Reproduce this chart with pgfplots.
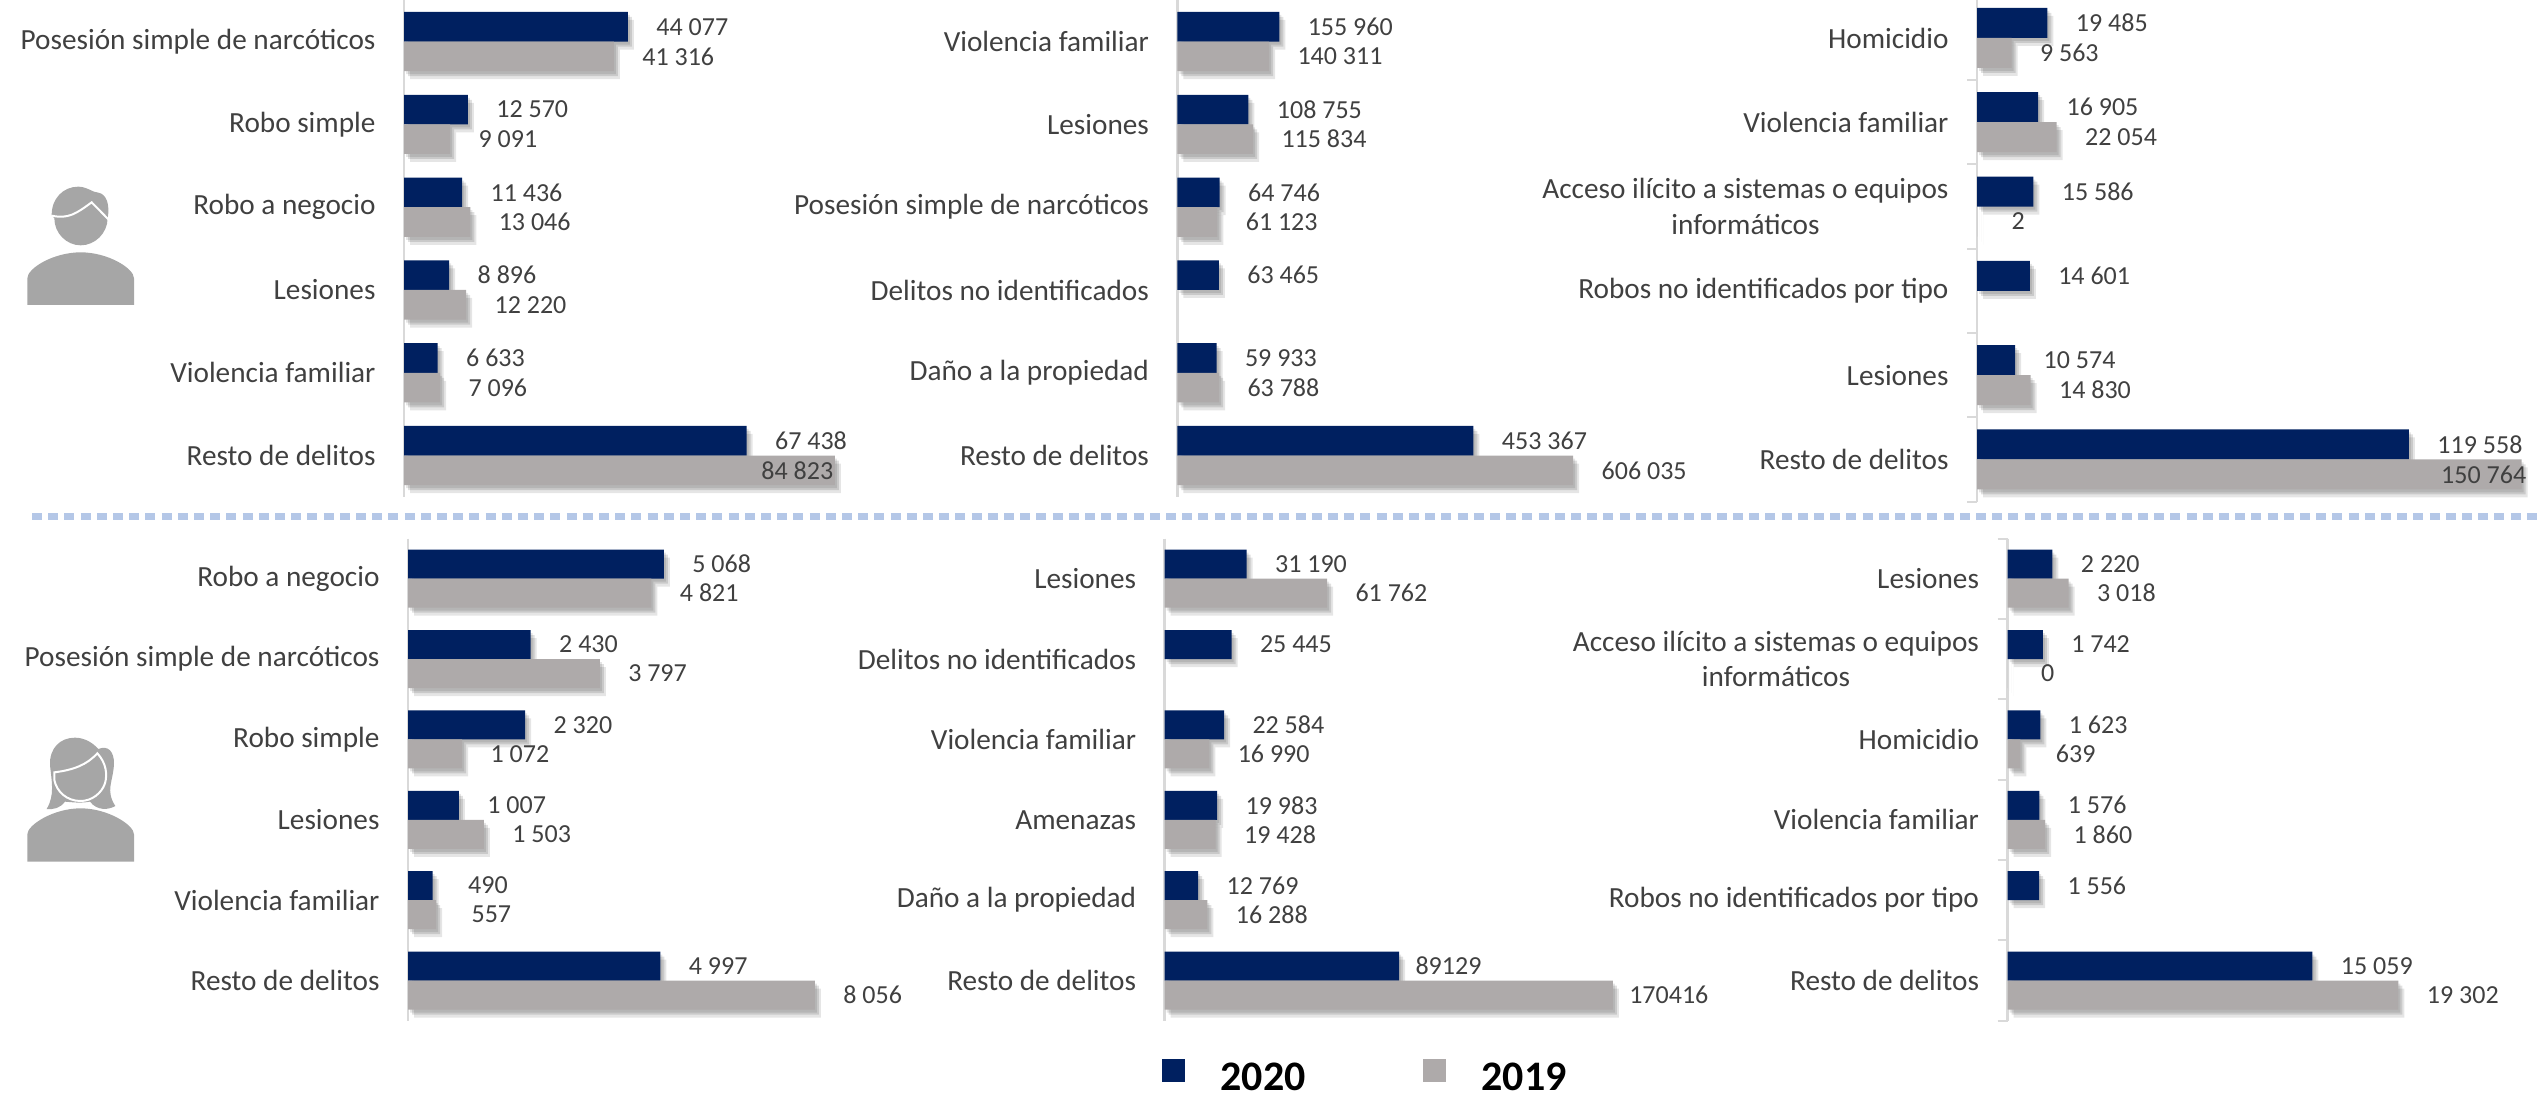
\documentclass[border=0pt]{standalone}
\usepackage{pgfplots}
\usepackage{pgfplotstable}
\usepackage{fontspec}
\pgfplotsset{compat=1.18}
\setmainfont{Carlito}
\definecolor{navy}{HTML}{002060}
\definecolor{grayb}{HTML}{AEAAAA}
\definecolor{txt}{HTML}{404040}
\definecolor{axl}{HTML}{D9D9D9}
\definecolor{icon}{HTML}{A6A6A6}
\definecolor{dots}{HTML}{B4C7E7}
\def\px{0.4pt}

\pgfplotstableread[col sep=comma]{
p,v,g,l
0,44077,28,44 077
1,12570,28,12 570
2,11436,28,11 436
3,8896,28,8 896
4,6633,28,6 633
5,67438,28,67 438
}\tAn
\pgfplotstableread[col sep=comma]{
p,v,g,l
0,41316,28,41 316
1,9091,28,9 091
2,13046,28,13 046
3,12220,28,12 220
4,7096,28,7 096
5,84823,-74,84 823
}\tAg
\pgfplotstableread[col sep=comma]{
p,v,g,l
0,155960,28,155 960
1,108755,28,108 755
2,64746,28,64 746
3,63465,28,63 465
4,59933,28,59 933
5,453367,28,453 367
}\tBn
\pgfplotstableread[col sep=comma]{
p,v,g,l
0,140311,28,140 311
1,115834,28,115 834
2,61123,28,61 123
4,63788,28,63 788
5,606035,28,606 035
}\tBg
\pgfplotstableread[col sep=comma]{
p,v,g,l
0,19485,28,19 485
1,16905,28,16 905
2,15586,28,15 586
3,14601,28,14 601
4,10574,28,10 574
5,119558,28,119 558
}\tCn
\pgfplotstableread[col sep=comma]{
p,v,g,l
0,9563,28,9 563
1,22054,28,22 054
2,2,34,2
4,14830,28,14 830
5,150764,-81,150 764
}\tCg
\pgfplotstableread[col sep=comma]{
p,v,g,l
0,5068,28,5 068
1,2430,28,2 430
2,2320,28,2 320
3,1007,28,1 007
4,490,35,490
5,4997,28,4 997
}\tDn
\pgfplotstableread[col sep=comma]{
p,v,g,l
0,4821,28,4 821
1,3797,28,3 797
2,1072,28,1 072
3,1503,28,1 503
4,557,35,557
5,8056,28,8 056
}\tDg
\pgfplotstableread[col sep=comma]{
p,v,g,l
0,31190,28,31 190
1,25445,28,25 445
2,22584,28,22 584
3,19983,28,19 983
4,12769,28,12 769
5,89129,16,89129
}\tEn
\pgfplotstableread[col sep=comma]{
p,v,g,l
0,61762,28,61 762
2,16990,28,16 990
3,19428,28,19 428
4,16288,28,16 288
5,170416,16,170416
}\tEg
\pgfplotstableread[col sep=comma]{
p,v,g,l
0,2220,28,2 220
1,1742,28,1 742
2,1623,28,1 623
3,1576,28,1 576
4,1556,28,1 556
5,15059,28,15 059
}\tFn
\pgfplotstableread[col sep=comma]{
p,v,g,l
0,3018,28,3 018
1,0,33,0
2,639,35,639
3,1860,28,1 860
5,19302,28,19 302
}\tFg

\pgfplotsset{
  panel/.style={
    anchor=north west, scale only axis, clip=false,
    axis x line=none, axis y line=left, axis line style={-, draw=axl, line width=2.4*\px},
    y dir=reverse, ymin=-0.5, ymax=5.5, ytick={0,...,5},
    major tick length=0pt, xbar, enlargelimits=false,
    point meta=explicit symbolic,
    yticklabel style={font=\fontsize{11.7}{14.2}\selectfont, text=txt, align=center, inner sep=0pt, xshift=-28*\px},
    nodes near coords, nodes near coords align={horizontal},
    every node near coord/.append style={font=\fontsize{10.4}{12}\selectfont, text=txt, inner sep=0pt, anchor=west, xshift=\gp*\px},
    visualization depends on={\thisrow{g} \as \gp},
  },
  tickd/.style={minor ytick={-0.5,0.5,...,5.5}, minor tick length=10*\px,
    every minor tick/.style={draw=axl, line width=2*\px}, ytick pos=left, tick align=outside},
  shad/.style={
    preaction={fill=black, fill opacity=.10, draw=none, transform canvas={shift={(2*\px,-3*\px)}}},
    preaction={fill=black, fill opacity=.12, draw=none, transform canvas={shift={(4*\px,-5*\px)}}},
    preaction={fill=black, fill opacity=.10, draw=none, transform canvas={shift={(6*\px,-8*\px)}}},
  },
  nv/.style={fill=navy, draw=none, forget plot, shad},
  gr/.style={fill=grayb, draw=none, forget plot, shad},
}

% x0, ytop, ybottom, xmax (for 560 px of axis), bar height px, tick labels, navy, gray, extras
\newcommand\panel[9]{%
  \pgfmathsetmacro\pW{560*0.4}\pgfmathsetmacro\pH{(#3-#2)*0.4}\pgfmathsetmacro\pX{#1*0.4}\pgfmathsetmacro\pY{-#2*0.4}%
  \pgfmathsetmacro\pB{#5*0.4}\pgfmathsetmacro\pS{#5*0.2}%
  \begin{axis}[panel, at={(\pX pt,\pY pt)}, width=\pW pt, height=\pH pt, xmin=0, xmax=#4,
      yticklabels={#6}, bar width=\pB pt, #9]
    \addplot[nv, bar shift=\pS pt] table[x=v,y=p,meta=l]{#7};
    \addplot[gr, bar shift=-\pS pt] table[x=v,y=p,meta=l]{#8};
  \end{axis}}

\begin{document}
\begin{tikzpicture}
\useasboundingbox (0,0) rectangle (2539*\px,-1097*\px);

\panel{404}{0.2}{497}{110236}{29.6}
 {Posesión simple de narcóticos,Robo simple,Robo a negocio,Lesiones,Violencia familiar,Resto de delitos}
 {\tAn}{\tAg}{}
\panel{1177.4}{0.2}{497}{857580}{29.6}
 {Violencia familiar,Lesiones,Posesión simple de narcóticos,Delitos no identificados,Daño a la propiedad,Resto de delitos}
 {\tBn}{\tBg}{}
\panel{1977}{-4.2}{501.6}{154996}{30}
 {Homicidio,Violencia familiar,{Acceso ilícito a sistemas o equipos\\informáticos},Robos no identificados por tipo,Lesiones,Resto de delitos}
 {\tCn}{\tCg}{tickd}
\panel{408}{538.5}{1020.7}{11089}{29}
 {Robo a negocio,Posesión simple de narcóticos,Robo simple,Lesiones,Violencia familiar,Resto de delitos}
 {\tDn}{\tDg}{}
\panel{1164.6}{538.5}{1020.7}{212928}{29}
 {Lesiones,Delitos no identificados,Violencia familiar,Amenazas,Daño a la propiedad,Resto de delitos}
 {\tEn}{\tEg}{}
\panel{2007.5}{538.5}{1020.7}{27654}{29}
 {Lesiones,{Acceso ilícito a sistemas o equipos\\informáticos},Homicidio,Violencia familiar,Robos no identificados por tipo,Resto de delitos}
 {\tFn}{\tFg}{tickd}

% dotted separator
\draw[dots, line width=7*\px, dash pattern=on 10*\px off 6.2*\px] (32*\px,-517*\px) -- (2539*\px,-517*\px);

% legend keys and text
\fill[navy] (1162*\px,-1059*\px) rectangle (1185*\px,-1082*\px);
\fill[grayb] (1423*\px,-1059*\px) rectangle (1446*\px,-1082*\px);
\node[anchor=west, inner sep=0pt, font=\fontsize{16.8}{18}\selectfont\bfseries, text=black] at (1220*\px,-1077*\px) {2020};
\node[anchor=west, inner sep=0pt, font=\fontsize{16.8}{18}\selectfont\bfseries, text=black] at (1481*\px,-1077*\px) {2019};

% male icon
\begin{scope}[shift={(10*\px,-170*\px)}, x=\px/3, y=-\px/3]
  \fill[icon] (52,405) -- (52,325) .. controls (52,295) and (130,247) .. (212,247)
     .. controls (294,247) and (372,295) .. (372,325) -- (372,405) -- cycle;
  \fill[icon] (125,135) .. controls (125,85) and (160,50) .. (205,50)
     .. controls (230,50) and (250,68) .. (265,68) .. controls (290,72) and (300,105) .. (293,145)
     .. controls (292,190) and (255,226) .. (212,226) .. controls (170,226) and (133,190) .. (133,145) -- cycle;
  \draw[white, line width=2*\px] (125,137) .. controls (175,148) and (200,130) .. (245,97) -- (297,150);
\end{scope}
% female icon
\begin{scope}[shift={(10*\px,-725*\px)}, x=\px/3, y=-\px/3]
  \fill[icon] (52,410) -- (52,328) .. controls (52,300) and (130,250) .. (212,250)
     .. controls (294,250) and (372,300) .. (372,328) -- (372,410) -- cycle;
  \fill[icon] (110,252) .. controls (135,210) and (125,170) .. (120,120)
     .. controls (118,70) and (150,38) .. (195,38) .. controls (225,38) and (250,55) .. (265,72)
     .. controls (295,60) and (312,80) .. (312,115) .. controls (310,170) and (285,195) .. (316,243)
     .. controls (295,255) and (262,258) .. (240,230) .. controls (210,235) and (190,232) .. (165,230)
     .. controls (150,250) and (130,254) .. (110,252) -- cycle;
  \draw[white, line width=2*\px, fill=icon] (133,142) .. controls (190,135) and (230,120) .. (262,85)
     .. controls (290,115) and (292,150) .. (285,175) .. controls (275,205) and (245,228) .. (212,228)
     .. controls (170,228) and (140,200) .. (133,165) -- cycle;
\end{scope}
\end{tikzpicture}
\end{document}
